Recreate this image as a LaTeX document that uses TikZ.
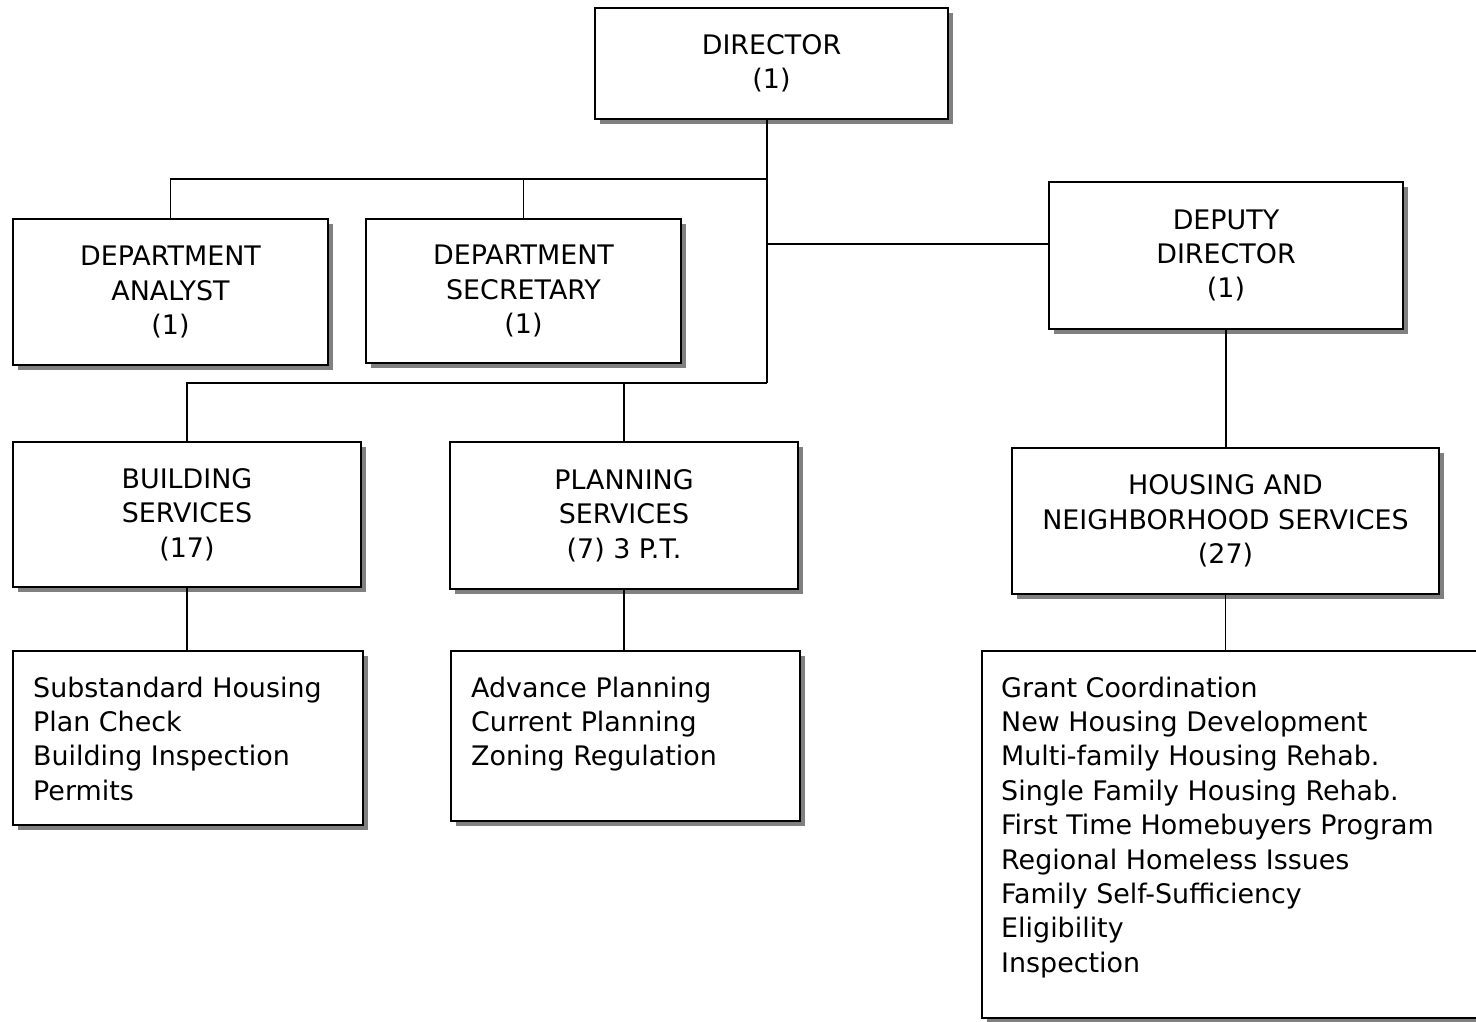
\documentclass[tikz,border=0pt]{standalone}
\usepackage{fontspec}
\setmainfont{DejaVu Sans}
\usetikzlibrary{shadows}
\newcommand\orgfont{\fontsize{27}{34.5}\selectfont}
\tikzset{
  x=1bp, y=-1bp,
  box/.style={draw, line width=2bp, fill=white, anchor=north west, inner sep=0pt,
    align=center, font=\orgfont,
    drop shadow={shadow xshift=5bp, shadow yshift=-5bp, fill=black!50, opacity=1}},
  link/.style={line width=1.8bp},
  listtext/.style={anchor=north west, align=left, inner sep=0pt, font=\orgfont}
}
\begin{document}
\begin{tikzpicture}
\useasboundingbox (0,0) rectangle (1476,1021);

% top level
\node[box, minimum width=353bp, minimum height=111bp] (dir) at (594,7) {DIRECTOR\\(1)};

% staff positions
\node[box, minimum width=315bp, minimum height=146bp] (ana) at (12,218) {DEPARTMENT\\ANALYST\\(1)};
\node[box, minimum width=315bp, minimum height=144bp] (sec) at (365,218) {DEPARTMENT\\SECRETARY\\(1)};
\node[box, minimum width=354bp, minimum height=147bp] (dep) at (1048,181) {DEPUTY\\DIRECTOR\\(1)};

% divisions
\node[box, minimum width=348bp, minimum height=145bp] (bld) at (12,441) {BUILDING\\SERVICES\\(17)};
\node[box, minimum width=348bp, minimum height=147bp] (pln) at (449,441) {PLANNING\\SERVICES\\(7) 3 P.T.};
\node[box, minimum width=427bp, minimum height=146bp] (hou) at (1011,447) {HOUSING AND\\NEIGHBORHOOD SERVICES\\(27)};

% function lists
\node[box, minimum width=350bp, minimum height=174bp] (bldlist) at (12,650) {};
\node[listtext] (bldtext) at (33,676.5) {Substandard Housing\\Plan Check\\Building Inspection\\Permits};
\node[box, minimum width=349bp, minimum height=170bp] (plnlist) at (450,650) {};
\node[listtext] (plntext) at (471,676.5) {Advance Planning\\Current Planning\\Zoning Regulation};
\node[box, minimum width=520bp, minimum height=367bp] (houlist) at (981,650) {};
\node[listtext] (houtext) at (1001,676.5) {Grant Coordination\\New Housing Development\\Multi-family Housing Rehab.\\Single Family Housing Rehab.\\First Time Homebuyers Program\\Regional Homeless Issues\\Family Self-Sufficiency\\Eligibility\\Inspection};

% trunk from the director
\coordinate (hubTop) at (767,179);
\coordinate (hubMid) at (767,244);
\coordinate (hubBot) at (767,383);
\draw[link] (dir.south -| hubTop) -- (hubBot);
\draw[link] (hubTop) -| (ana.north);
\draw[link] (sec.north) |- (hubTop);
\draw[link] (hubMid) -- (dep.west |- hubMid);
\draw[link] (hubBot) -| (bld.north);
\draw[link] (pln.north) |- (hubBot);
\draw[link] (dep.south) -- (hou.north -| dep.south);

% divisions to their functions
\draw[link] (bld.south) -- (bldlist.north -| bld.south);
\draw[link] (pln.south) -- (plnlist.north -| pln.south);
\draw[link] (hou.south) -- (houlist.north -| hou.south);
\end{tikzpicture}
\end{document}
